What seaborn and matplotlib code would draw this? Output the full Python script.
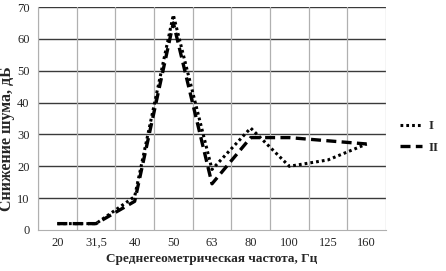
import numpy as np
import pandas as pd
import matplotlib
matplotlib.use("Agg")
import matplotlib.pyplot as plt
import seaborn as sns

# Data
freqs = ["20", "31,5", "40", "50", "63", "80", "100", "125", "160"]
series_I = [2, 2, 10.5, 67.5, 19, 32, 20, 22, 27]
series_II = [2, 2, 9, 65, 14.5, 29, 29, 28, 27]

sns.set_style("white")
plt.rcParams['font.family'] = ['Liberation Serif', 'DejaVu Serif']

df = pd.DataFrame({
    "pos": list(range(len(freqs))) * 2,
    "value": series_I + series_II,
    "series": ["I"] * len(freqs) + ["II"] * len(freqs),
})

fig = plt.figure(figsize=(4.46, 2.71), dpi=100)
ax = fig.add_axes([38 / 446, 1 - 230 / 271, 348 / 446, 223 / 271])

# dashed series first, dotted on top
sns.lineplot(data=df[df.series == "II"], x="pos", y="value", ax=ax, color="black",
             linewidth=2.4, label="II")
ax.lines[-1].set_dashes((3, 1.6))
sns.lineplot(data=df[df.series == "I"], x="pos", y="value", ax=ax, color="black",
             linewidth=2.2, label="I")
ax.lines[-1].set_dashes((0.9, 1.0))

ax.set_xlim(-0.5, len(freqs) - 0.5)
ax.set_ylim(0, 70)
ax.set_yticks(range(0, 71, 10))
ax.set_xticks(range(len(freqs)))
ax.set_xticklabels(freqs)
ax.set_xticks(np.arange(-0.5, len(freqs), 1), minor=True)

ax.grid(False)
for y in range(10, 71, 10):
    ax.axhline(y, color="#3a3a3a", linewidth=1.0, zorder=0)
ax.grid(axis="x", which="minor", color="#b0b0b0", linewidth=0.9)

for side in ["top", "right"]:
    ax.spines[side].set_visible(False)
ax.spines["left"].set_color("#b0b0b0")
ax.spines["bottom"].set_color("#b0b0b0")
ax.tick_params(axis="x", which="major", length=0, labelsize=9, pad=5)
ax.tick_params(axis="x", which="minor", length=4, color="#b0b0b0", direction="out")
ax.tick_params(axis="y", length=0, labelsize=9, pad=6)

ax.set_xlabel("Среднегеометрическая частота, Гц", fontsize=9.5, fontweight="bold", labelpad=3)
ax.set_ylabel("Снижение шума, дБ", fontsize=11.5, fontweight="bold")
ax.yaxis.set_label_coords(-0.066, 0.41)

handles, labels = ax.get_legend_handles_labels()
order = [labels.index("I"), labels.index("II")]
leg = ax.legend([handles[i] for i in order], ["I", "II"], loc="center left",
                bbox_to_anchor=(400 / 446, 1 - 137 / 271), bbox_transform=fig.transFigure,
                frameon=False, handlelength=1.7, handletextpad=0.5, borderpad=0,
                borderaxespad=0, prop={"weight": "bold", "size": 9.5}, labelspacing=0.7)

fig.savefig("out.png", dpi=100)
